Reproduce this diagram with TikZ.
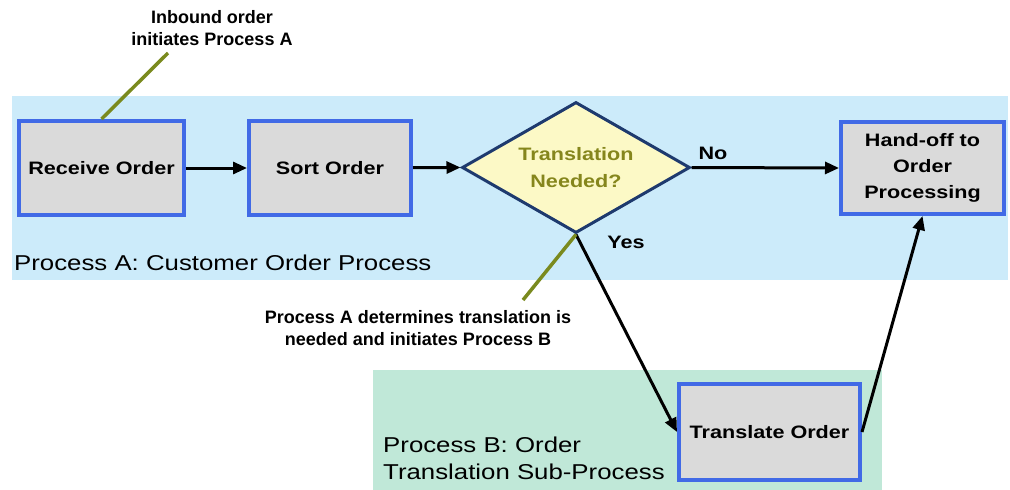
\documentclass[tikz,border=0pt]{standalone}
\usepackage{fontspec}
\setmainfont{Liberation Sans}[FakeStretch=1.2]
\newfontfamily\notefont{Liberation Sans}
\usetikzlibrary{shapes.geometric,arrows.meta}

\definecolor{bandblue}{HTML}{CCEBFA}
\definecolor{bandgreen}{HTML}{C0E8D8}
\definecolor{boxgray}{HTML}{DADADA}
\definecolor{boxblue}{HTML}{416AE6}
\definecolor{decfill}{HTML}{FCF9C6}
\definecolor{decline}{HTML}{1E3A6E}
\definecolor{olivetext}{HTML}{85861C}
\definecolor{oliveline}{HTML}{7A8A1E}

\begin{document}
\begin{tikzpicture}[x=1pt,y=-1pt,
  band/.style={fill=#1, draw=none, inner sep=0, anchor=north west},
  procbox/.style={draw=boxblue, line width=4pt, fill=boxgray, inner sep=0,
    align=center, font=\fontsize{18}{26}\selectfont\bfseries},
  decision/.style={diamond, aspect=1.74, draw=decline, line width=3pt, fill=decfill,
    inner sep=0, minimum width=228pt, minimum height=131pt, align=center,
    text=olivetext, font=\fontsize{18}{27}\selectfont\bfseries},
  flow/.style={-{Triangle[length=14pt,width=12pt]}, line width=3pt, black},
  callout/.style={line width=3.5pt, oliveline},
  note/.style={align=center, inner sep=0, font=\notefont\bfseries\fontsize{18}{22}\selectfont},
  branch/.style={inner sep=0, font=\fontsize{18}{22}\selectfont\bfseries},
  proclabel/.style={inner sep=0, anchor=base west, align=left,
    font=\fontsize{21.5}{27}\selectfont}
]
\useasboundingbox (0,0) rectangle (1010,490);

% process regions
\node[band=bandblue, minimum width=996pt, minimum height=184pt] (regionA) at (12,96) {};
\node[band=bandgreen, minimum width=509pt, minimum height=120pt] (regionB) at (373,370) {};

% steps
\node[procbox, minimum width=165pt, minimum height=94pt] (recv) at (101.5,168) {Receive Order};
\node[procbox, minimum width=162pt, minimum height=94pt] (sort) at (330,168) {Sort Order};
\node[decision] (dec) at (576,167.5) {Translation\\Needed?};
\node[procbox, minimum width=163pt, minimum height=92pt] (hand) at (922.5,168) {Hand-off to\\Order\\Processing};
\node[procbox, minimum width=181pt, minimum height=96pt] (trans) at (769.5,432) {Translate Order};

% region labels (base anchor sits on the last line)
\node[proclabel] (labA) at (14,270) {Process A: Customer Order Process};
\node[proclabel] (labB) at (383,479) {Process B: Order\\Translation Sub-Process};

% flow
\draw[flow] (recv) -- (sort);
\draw[flow] (sort) -- (dec.west);
\draw[flow] (dec.east) -- (hand.west);
\draw[flow] (dec.south) -- (trans.west);
\draw[flow] (trans.east) -- (hand.south);
\node[branch] (no) at (713,153) {No};
\node[branch] (yes) at (626,242) {Yes};

% annotations
\node[note] (inbound) at (212,28) {Inbound order\\initiates Process A};
\coordinate (inboundtip) at (168,53);
\draw[callout] (inboundtip) -- (recv.north);

\node[note] (determine) at (418,328) {Process A determines translation is\\needed and initiates Process B};
\coordinate (determinetip) at (523,300);
\draw[callout] (dec.south) -- (determinetip);
\end{tikzpicture}
\end{document}
